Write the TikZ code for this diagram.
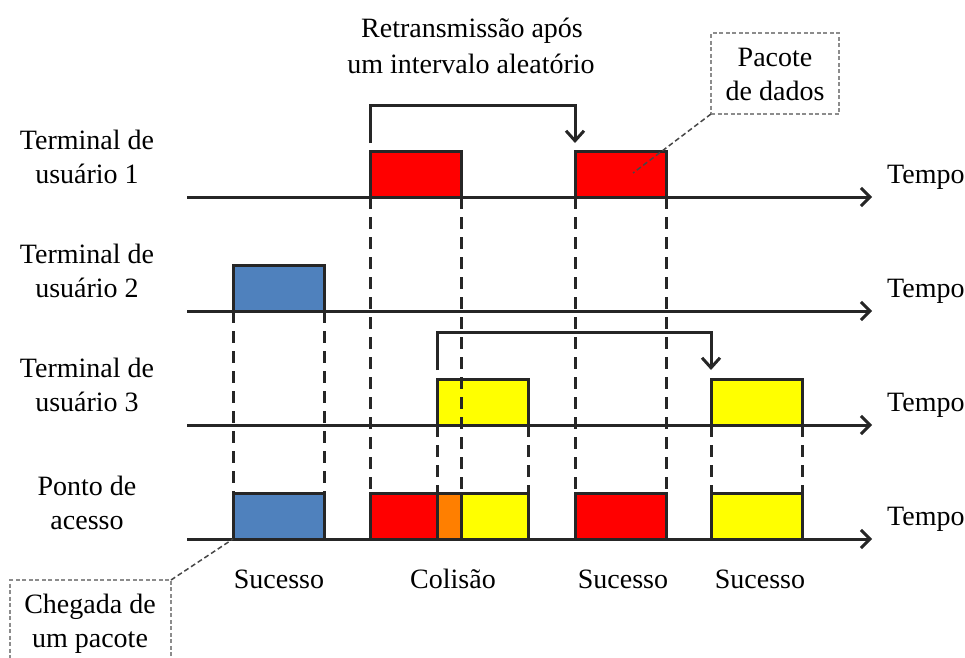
\documentclass[tikz,border=0pt]{standalone}
\usepackage{fontspec}
\setmainfont{Liberation Serif}
\usetikzlibrary{arrows.meta,calc}
\definecolor{ink}{HTML}{262626}
\definecolor{pred}{HTML}{FF0000}
\definecolor{pblue}{HTML}{4F81BD}
\definecolor{pyellow}{HTML}{FFFF00}
\definecolor{porange}{HTML}{FF7F00}
\definecolor{cgray}{HTML}{8C8C8C}
\begin{document}
\begin{tikzpicture}[x=1pt,y=-1pt,
  lbl/.style={font=\fontsize{28}{34}\selectfont, inner sep=0pt, anchor=base, text=black},
  axis/.style={draw=ink, line width=3pt, -{Straight Barb[length=9pt,width=18pt]}},
  pkt/.style={draw=ink, line width=3pt, minimum width=91pt, minimum height=46pt, inner sep=0pt, outer sep=0pt, anchor=south west},
  guide/.style={draw=ink, line width=3pt, dash pattern=on 12pt off 8pt},
  retx/.style={draw=ink, line width=3pt, -{Straight Barb[length=10pt,width=18pt]}},
  callbox/.style={draw=cgray, line width=1.2pt, dash pattern=on 4pt off 2.5pt, inner sep=0pt, outer sep=0pt},
  leader/.style={draw=ink!85, line width=1.5pt, dash pattern=on 5pt off 3pt}]
\useasboundingbox (0,0) rectangle (965,657);
\clip (0,0) rectangle (965,657);

% timelines
\foreach \n/\y in {1/197,2/311,3/425,4/539}{
  \coordinate (ts\n) at (187,\y);
  \coordinate (te\n) at (872,\y);
  \draw[axis] (ts\n) -- (te\n);
}

% packets on user terminals
\node[pkt, fill=pred] (u1a) at (370,197) {};
\node[pkt, fill=pred] (u1b) at (575,197) {};
\node[pkt, fill=pblue] (u2) at (233,311) {};
\node[pkt, fill=pyellow] (u3a) at (437,425) {};
\node[pkt, fill=pyellow] (u3b) at (711,425) {};

% packets at access point
\node[pkt, fill=pblue] (apB) at (233,539) {};
\node[pkt, fill=pred, minimum width=67pt] (apR) at (370,539) {};
\node[pkt, fill=porange, minimum width=24pt] (apO) at (437,539) {};
\node[pkt, fill=pyellow, minimum width=67pt] (apY) at (461,539) {};
\node[pkt, fill=pred] (apR2) at (575,539) {};
\node[pkt, fill=pyellow] (apY2) at (711,539) {};

% dashed guides
\draw[guide] (u2.south west) -- (apB.north west);
\draw[guide] (u2.south east) -- (apB.north east);
\draw[guide] (u1a.south west) -- (apR.north west);
\draw[guide] (u1a.south east) -- (apO.north east);
\draw[guide] (u3a.south west) -- (apO.north west);
\draw[guide] (u3a.south east) -- (apY.north east);
\draw[guide] (u1b.south west) -- (apR2.north west);
\draw[guide] (u1b.south east) -- (apR2.north east);
\draw[guide] (u3b.south west) -- (apY2.north west);
\draw[guide] (u3b.south east) -- (apY2.north east);

% retransmission arrows
\draw[retx] ($(u1a.north west)+(0,-8)$) -- ++(0,-38) -| ($(u1b.north west)+(0,-8)$);
\draw[retx] ($(u3a.north west)+(0,-9)$) -- ++(0,-38) -| ($(u3b.north west)+(0,-9)$);

% Tempo labels
\node[lbl, anchor=base west] (tp1) at (887,183) {Tempo};
\node[lbl, anchor=base west] (tp2) at (887,297) {Tempo};
\node[lbl, anchor=base west] (tp3) at (887,411) {Tempo};
\node[lbl, anchor=base west] (tp4) at (887,525) {Tempo};

% left labels
\node[lbl] (l1a) at (87,149) {Terminal de};
\node[lbl] (l1b) at (87,183) {usuário 1};
\node[lbl] (l2a) at (87,263) {Terminal de};
\node[lbl] (l2b) at (87,297) {usuário 2};
\node[lbl] (l3a) at (87,377) {Terminal de};
\node[lbl] (l3b) at (87,411) {usuário 3};
\node[lbl] (l4a) at (87,495) {Ponto de};
\node[lbl] (l4b) at (87,529) {acesso};

% bottom labels
\node[lbl] (s1) at (279,588) {Sucesso};
\node[lbl] (s2) at (453,588) {Colisão};
\node[lbl] (s3) at (623,588) {Sucesso};
\node[lbl] (s4) at (760,588) {Sucesso};

% top annotation
\node[lbl] (ra) at (472,37) {Retransmissão após};
\node[lbl] (rb) at (471,73) {um intervalo aleatório};

% Pacote de dados callout
\node[callbox, minimum width=128pt, minimum height=81pt, anchor=north west] (pd) at (711,33) {};
\node[lbl] (pda) at (775,66) {Pacote};
\node[lbl] (pdb) at (775,100) {de dados};
\coordinate (pdend) at (633,173);
\draw[leader] (pd.south west) -- (pdend);

% Chegada de um pacote callout
\node[callbox, minimum width=161pt, minimum height=110pt, anchor=north west] (cp) at (10,580) {};
\node[lbl] (cpa) at (90,613) {Chegada de};
\node[lbl] (cpb) at (90,647) {um pacote};
\draw[leader] (cp.north east) -- (apB.south west);
\end{tikzpicture}
\end{document}
